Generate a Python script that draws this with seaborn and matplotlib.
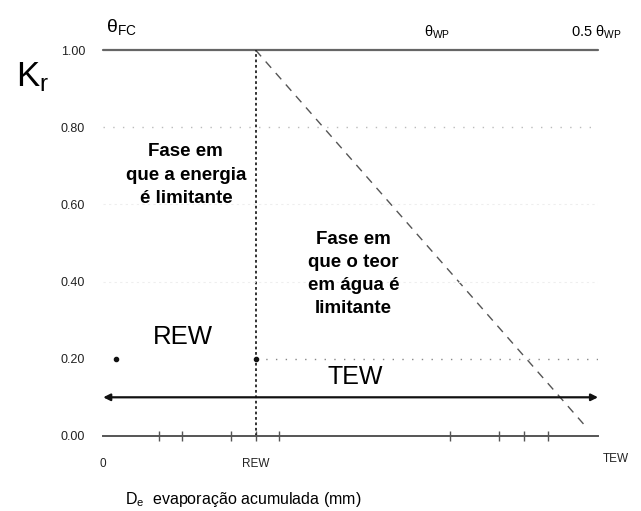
import numpy as np
import pandas as pd
import matplotlib
matplotlib.use("Agg")
import matplotlib.pyplot as plt
import seaborn as sns

# curve of Kr against cumulative evaporation (arbitrary units, TEW = 10)
REW = 3.08
TEW = 10.0
de_line = [REW, 9.76]
kr_line = [1.0, 0.023]
kr_ticks = [0.0, 0.2, 0.4, 0.6, 0.8, 1.0]
kr_labels = ["0.00", "0.20", "0.40", "0.60", "0.80", "1.00"]
minor_de = [1.12, 1.6, 2.58, 3.09, 3.56, 7.01, 8.0, 8.5, 8.98]
kr_tew = 0.10
kr_rew = 0.20

sns.set_theme(style="white")
plt.rcParams["font.family"] = ["Liberation Sans", "DejaVu Sans"]
plt.rcParams["mathtext.fontset"] = "custom"
plt.rcParams["mathtext.rm"] = "Liberation Sans"
plt.rcParams["mathtext.it"] = "Liberation Sans"
plt.rcParams["mathtext.default"] = "regular"

fig = plt.figure(figsize=(6.41, 5.11), dpi=100)
ax = fig.add_axes([0.161, 0.147, 0.772, 0.755])

df = pd.DataFrame({"De": de_line, "Kr": kr_line})
sns.lineplot(data=df, x="De", y="Kr", ax=ax, color="#555555", lw=1.0,
             linestyle=(0, (6, 5)))

# Kr = 1 line
ax.plot([0, TEW], [1.0, 1.0], color="#666666", lw=1.6, clip_on=False)
# REW vertical
ax.plot([REW, REW], [0, 1.0], color="#222222", lw=1.3, linestyle=(0, (1.5, 1.5)),
        clip_on=False)
# faint grid
for k in [0.4, 0.6]:
    ax.plot([0, TEW], [k, k], color="#eeeeee", lw=0.8, linestyle=(0, (2, 3)))
ax.plot([0, TEW], [0.8, 0.8], color="#bbbbbb", lw=1.0, linestyle=(0, (1, 6)))
ax.plot([REW, TEW], [kr_rew, kr_rew], color="#888888", lw=1.0, linestyle=(0, (1, 6)))
ax.plot([0.25, REW], [kr_rew, kr_rew], "o", color="#111111", ms=3)

# TEW arrow
ax.annotate("", xy=(TEW, kr_tew), xytext=(0, kr_tew),
            arrowprops=dict(arrowstyle="<|-|>", color="#111111", lw=1.6,
                            mutation_scale=10, shrinkA=0, shrinkB=0))

ax.set_xlim(0, TEW)
ax.set_ylim(0, 1.0)
ax.set_yticks(kr_ticks)
ax.set_yticklabels(kr_labels, fontsize=9, color="#222222")
ax.set_xticks(minor_de, minor=True)
ax.set_xticks([0, REW])
ax.set_xticklabels(["0", "REW"], fontsize=8.5, color="#222222")
ax.tick_params(axis="y", length=0, pad=13)
ax.tick_params(axis="x", which="major", length=0, pad=16)
ax.tick_params(axis="x", which="minor", direction="inout", length=7, width=1,
               color="#555555", bottom=True)
ax.set_xlabel("")
ax.set_ylabel("")
for s in ["top", "right", "left"]:
    ax.spines[s].set_visible(False)
ax.spines["bottom"].set_color("#555555")
ax.spines["bottom"].set_linewidth(1.4)
ax.text(TEW + 0.35, -0.06, "TEW", fontsize=8.5, color="#222222", ha="center", va="center")

# annotations
ax.text(1.67, 0.675, "Fase em\nque a energia\né limitante", fontsize=13.5,
        fontweight="bold", ha="center", va="center", linespacing=1.5,
        color="black")
ax.text(5.06, 0.42, "Fase em\nque o teor\nem água é\nlimitante", fontsize=13.5,
        fontweight="bold", ha="center", va="center", linespacing=1.45,
        color="black")
ax.text(1.6, 0.256, "REW", fontsize=18.5, ha="center", va="center", color="black")
ax.text(5.1, 0.153, "TEW", fontsize=18, ha="center", va="center", color="black")

fig.text(0.025, 0.85, "K$_r$", fontsize=25, ha="left", va="center", color="black")
ax.text(0.05, 1.06, r"$\theta_{FC}$", fontsize=14, ha="left", va="center", color="black")
ax.text(6.75, 1.045, r"$\theta_{WP}$", fontsize=10.5, ha="center", va="center", color="black")
ax.text(9.45, 1.045, r"0.5 $\theta_{WP}$", fontsize=10.5, ha="left", va="center", color="black")
fig.text(0.195, 0.022, "D$_e$  evaporação acumulada (mm)", fontsize=11.5,
         ha="left", va="center", color="black")

fig.savefig("out.png", dpi=100)
